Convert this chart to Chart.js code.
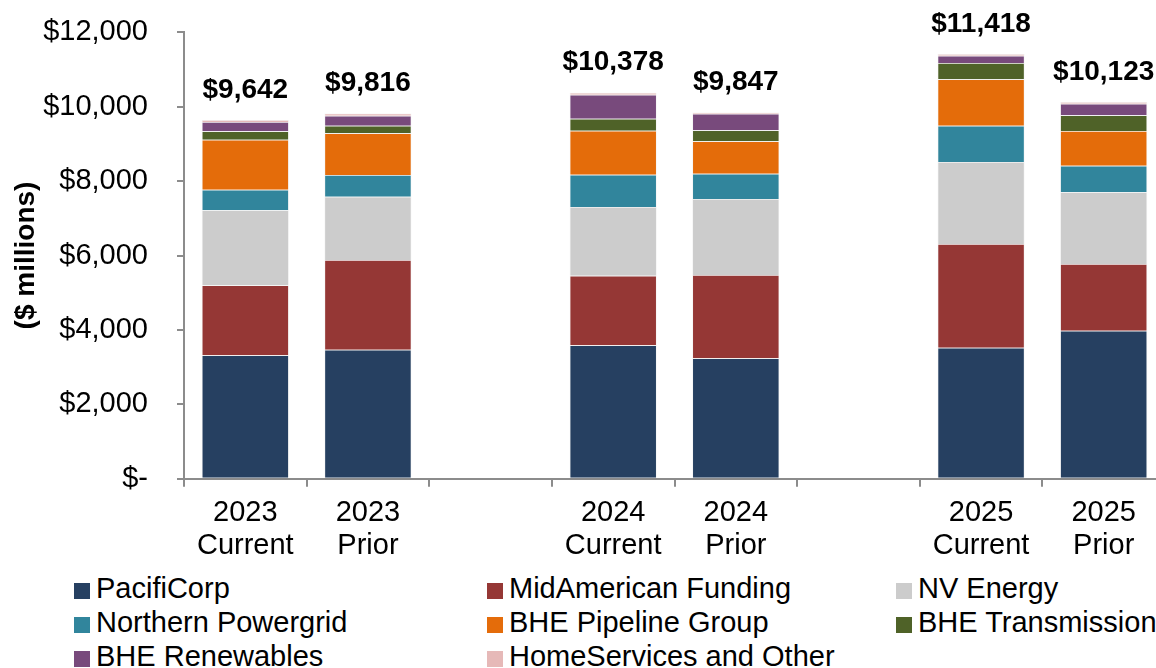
<!DOCTYPE html>
<html>
<head>
<meta charset="utf-8">
<script src="https://cdn.jsdelivr.net/npm/chart.js@4.4.1/dist/chart.umd.min.js"></script>
<style>
html,body{margin:0;padding:0;background:#fff;overflow:hidden;width:1156px;height:668px;}
#wrap{position:absolute;left:0;top:0;width:1170px;height:668px;}
#c{position:absolute;left:0;top:0;}
#legend{position:absolute;left:74px;top:571px;display:grid;grid-template-columns:413px 409px 400px;grid-auto-rows:34px;font-family:'Liberation Sans',Arial,sans-serif;font-size:29px;line-height:34px;color:#000;white-space:nowrap;}
.item{display:flex;align-items:flex-start;}
.sw{width:16px;height:16px;margin-top:12px;margin-right:6px;flex:none;}
</style>
</head>
<body>
<div id="wrap">
<canvas id="c" width="1170" height="565" style="width:1170px;height:565px"></canvas>
<div id="legend"></div>
</div>
<script>
// Categories (empty slots separate the year groups)
const categories = [['2023','Current'], ['2023','Prior'], '', ['2024','Current'], ['2024','Prior'], '', ['2025','Current'], ['2025','Prior']];

// Series values ($ millions)
const pacifiCorp        = [3317, 3468, null, 3586, 3236, null, 3521, 3978];
const midAmerican       = [1882, 2411, null, 1871, 2239, null, 2788, 1793];
const nvEnergy          = [2016, 1701, null, 1846, 2043, null, 2204, 1927];
const northernPowergrid = [553, 583, null, 869, 680, null, 976, 715];
const pipelineGroup     = [1344, 1121, null, 1182, 871, null, 1247, 933];
const transmission      = [226, 205, null, 323, 296, null, 438, 422];
const renewables        = [250, 268, null, 645, 446, null, 196, 312];
const homeServices      = [54, 59, null, 56, 36, null, 48, 43];

// Printed totals above bars
const totals = [9642, 9816, null, 10378, 9847, null, 11418, 10123];

// Y ticks
const yTicks = [0, 2000, 4000, 6000, 8000, 10000, 12000];

const seriesNames = ['PacifiCorp', 'MidAmerican Funding', 'NV Energy', 'Northern Powergrid', 'BHE Pipeline Group', 'BHE Transmission', 'BHE Renewables', 'HomeServices and Other'];
const seriesData = [pacifiCorp, midAmerican, nvEnergy, northernPowergrid, pipelineGroup, transmission, renewables, homeServices];
const seriesColors = ['#264061', '#953735', '#cccccc', '#31859c', '#e46c0a', '#4f6228', '#784a7c', '#e6b9b8'];

const FONT = "'Liberation Sans', Arial, sans-serif";
Chart.defaults.font.family = FONT;
Chart.defaults.color = '#000';

const datasets = seriesNames.map((n, i) => ({
  label: n,
  data: seriesData[i],
  backgroundColor: seriesColors[i],
  borderColor: 'rgba(230,230,230,0.55)',
  borderWidth: 0.75,
  barPercentage: 0.71,
  categoryPercentage: 1.0,
  stack: 's'
}));

const totalsPlugin = {
  id: 'totals',
  afterDatasetsDraw(chart) {
    const ctx = chart.ctx;
    const meta = chart.getDatasetMeta(chart.data.datasets.length - 1);
    ctx.save();
    ctx.font = "bold 28px " + FONT;
    ctx.fillStyle = '#000';
    ctx.textAlign = 'center';
    ctx.textBaseline = 'middle';
    totals.forEach((t, i) => {
      if (t == null) return;
      const el = meta.data[i];
      ctx.fillText('$' + t.toLocaleString('en-US'), el.x, el.y - 30);
    });
    ctx.restore();
  }
};

const AX = '#8c8c8c';

const chart = new Chart(document.getElementById('c'), {
  type: 'bar',
  data: { labels: categories, datasets },
  plugins: [totalsPlugin],
  options: {
    responsive: false,
    animation: false,
    layout: { padding: { top: 32.3, right: 5, bottom: 0, left: 0 } },
    plugins: { legend: { display: false }, tooltip: { enabled: false } },
    scales: {
      x: {
        stacked: true,
        offset: true,
        grid: { offset: true, drawOnChartArea: false, drawTicks: true, tickLength: 8, color: AX, lineWidth: 2 },
        border: { display: true, color: AX, width: 2 },
        ticks: { font: { size: 29, lineHeight: 1.162 }, color: '#000', padding: 9, maxRotation: 0, autoSkip: false },
        afterFit(s) { s.height = 86.3; s.paddingLeft = 0; s.paddingRight = 0; }
      },
      y: {
        stacked: true,
        min: 0,
        max: 12000,
        afterBuildTicks(s) { s.ticks = yTicks.map(v => ({ value: v })); },
        grid: { drawOnChartArea: false, drawTicks: true, tickLength: 7, color: AX, lineWidth: 2 },
        border: { display: true, color: AX, width: 2 },
        ticks: {
          font: { size: 29 },
          color: '#000',
          padding: 29,
          callback: v => v === 0 ? '$-' : '$' + v.toLocaleString('en-US')
        },
        title: {
          display: true,
          text: '($ millions)',
          font: { size: 28, weight: 'bold', lineHeight: 1.2 },
          color: '#000',
          padding: { top: 9, bottom: 0 }
        },
        afterFit(s) { s.width = 184; s.paddingTop = 0; s.paddingBottom = 0; }
      }
    }
  }
});

// HTML legend built from the chart's datasets
const lg = document.getElementById('legend');
chart.data.datasets.forEach(ds => {
  const it = document.createElement('div');
  it.className = 'item';
  const sw = document.createElement('span');
  sw.className = 'sw';
  sw.style.background = ds.backgroundColor;
  const tx = document.createElement('span');
  tx.textContent = ds.label;
  it.appendChild(sw);
  it.appendChild(tx);
  lg.appendChild(it);
});
</script>
</body>
</html>
